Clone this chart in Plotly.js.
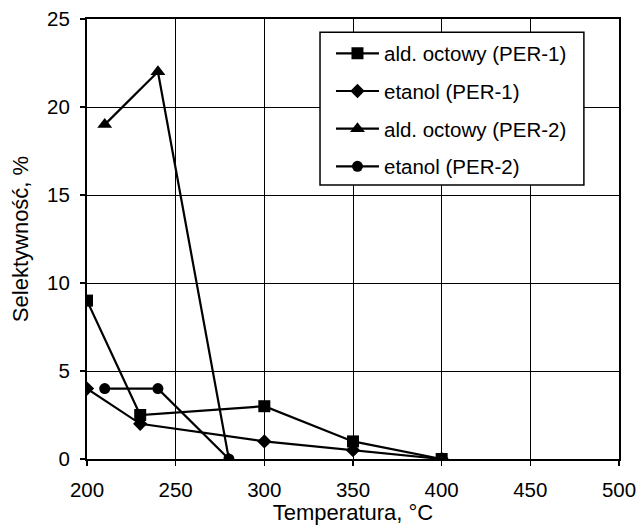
<!DOCTYPE html>
<html>
<head>
<meta charset="utf-8">
<script src="https://cdn.plot.ly/plotly-3.0.1.min.js"></script>
<style>html,body{margin:0;padding:0;background:#fff;}#chart{width:638px;height:525px;}</style>
</head>
<body>
<div id="chart"></div>
<script>
const seriesNames = ["ald. octowy (PER-1)", "etanol (PER-1)", "ald. octowy (PER-2)", "etanol (PER-2)"];
const tempPER1 = [200, 230, 300, 350, 400];
const aldPER1 = [9, 2.5, 3, 1, 0];
const etPER1 = [4, 2, 1, 0.5, 0];
const tempPER2 = [210, 240, 280];
const aldPER2 = [19, 22, 0];
const etPER2 = [4, 4, 0];
const xTicks = [200, 250, 300, 350, 400, 450, 500];
const yTicks = [0, 5, 10, 15, 20, 25];

const FONT = "Liberation Sans, Arial, sans-serif";
function tr(x, y, name, symbol, size, g) {
  return {
    x: x, y: y, name: name, type: "scatter", mode: "lines+markers",
    legendgroup: g,
    line: {color: "#000", width: 2.2},
    marker: {symbol: symbol, size: size, color: "#000"}
  };
}
const data = [
  tr(tempPER1, aldPER1, seriesNames[0], "square", 12, "a"),
  tr(tempPER1, etPER1, seriesNames[1], "diamond", 11, "b"),
  tr(tempPER2, aldPER2, seriesNames[2], "triangle-up", 13, "c"),
  tr(tempPER2, etPER2, seriesNames[3], "circle", 11, "d")
];
const axisCommon = {
  showline: true, linecolor: "#000", linewidth: 2, mirror: true,
  showgrid: true, gridcolor: "#000", gridwidth: 1,
  ticks: "outside", ticklen: 5, tickwidth: 1.5, tickcolor: "#000",
  zeroline: false, automargin: false,
  tickfont: {family: FONT, size: 20.5, color: "#000"}
};
const layout = {
  width: 638, height: 525,
  margin: {l: 87, r: 19, t: 19, b: 66},
  paper_bgcolor: "#fff", plot_bgcolor: "#fff",
  font: {family: FONT, color: "#000"},
  showlegend: true,
  legend: {
    x: 0.4586, y: 0.967, xanchor: "left", yanchor: "top",
    bgcolor: "rgba(0,0,0,0)", borderwidth: 0,
    font: {family: FONT, size: 20.5, color: "#000"},
    traceorder: "grouped", tracegroupgap: 8, itemwidth: 43
  },
  shapes: [{
    type: "rect", xref: "paper", yref: "paper",
    x0: 0.438, x1: 0.934, y0: 0.6227, y1: 0.970,
    fillcolor: "#fff", line: {color: "#000", width: 1.5}, layer: "above"
  }],
  xaxis: Object.assign({}, axisCommon, {
    range: [200, 500], tickvals: xTicks, ticktext: xTicks.map(String),
    ticklabelstandoff: 6,
    title: {text: "Temperatura, °C", font: {family: FONT, size: 22, color: "#000"}, standoff: 9}
  }),
  yaxis: Object.assign({}, axisCommon, {
    range: [0, 25], tickvals: yTicks, ticktext: yTicks.map(String),
    ticklabelstandoff: 6,
    title: {text: "Selektywność, %", font: {family: FONT, size: 22, color: "#000"}, standoff: 12}
  })
};
Plotly.newPlot("chart", data, layout, {displayModeBar: false, staticPlot: true});
</script>
</body>
</html>
